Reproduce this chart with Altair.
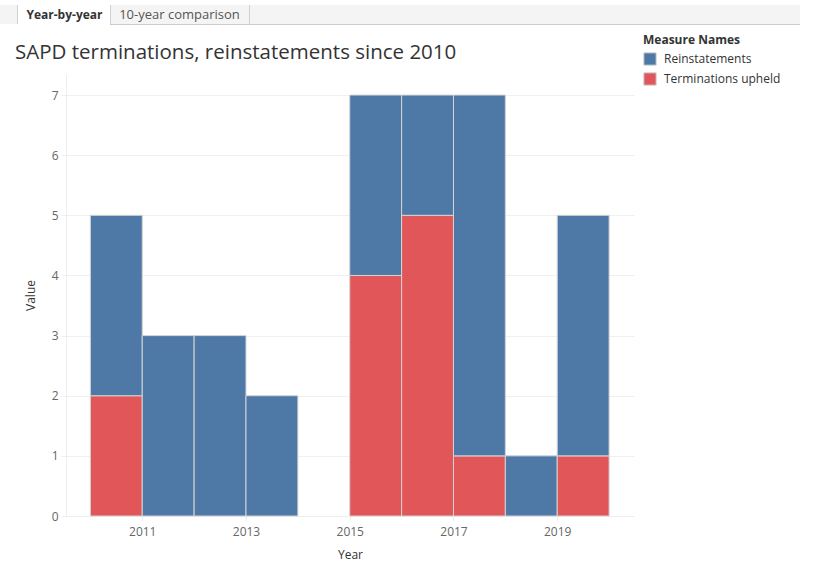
import altair as alt
import pandas as pd

years = [2010, 2011, 2012, 2013, 2014, 2015, 2016, 2017, 2018, 2019]
terminations_upheld = [2, 0, 0, 0, 0, 4, 5, 1, 0, 1]
reinstatements = [3, 3, 3, 2, 0, 3, 2, 6, 1, 4]
measures = ["Reinstatements", "Terminations upheld"]
colors = ["#4e79a7", "#e15759"]
x_ticks = [2011, 2013, 2015, 2017, 2019]
y_ticks = [0, 1, 2, 3, 4, 5, 6, 7]
title_text = "SAPD terminations, reinstatements since 2010"
tab_labels = ["Year-by-year", "10-year comparison"]

rows = []
for y, t, r in zip(years, terminations_upheld, reinstatements):
    rows.append({"Year": y, "Measure Names": "Terminations upheld", "Value": t, "order": 0})
    rows.append({"Year": y, "Measure Names": "Reinstatements", "Value": r, "order": 1})
df = pd.DataFrame(rows)

FONT = "Open Sans"
OX, OY = 66, 74  # plot origin in page pixels

bars = (
    alt.Chart(df)
    .transform_stack(
        stack="Value",
        groupby=["Year"],
        as_=["v0", "v1"],
        sort=[alt.SortField("order", order="ascending")],
    )
    .transform_calculate(YearEnd="datum.Year + 1")
    .transform_filter("datum.Value > 0")
    .mark_bar(stroke="#d4d4d4", strokeWidth=1)
    .encode(
        x=alt.X(
            "Year:Q",
            scale=alt.Scale(domain=[2009.53, 2020.48], nice=False, zero=False),
            axis=alt.Axis(
                values=x_ticks,
                format="d",
                title="Year",
                grid=False,
                domain=True,
                domainColor="#eeeeee",
                ticks=True,
                tickColor="#eeeeee",
                tickSize=5,
                labelFont=FONT,
                labelFontSize=12,
                labelColor="#666666",
                labelPadding=5,
                titleFont=FONT,
                titleFontSize=12,
                titleFontWeight="normal",
                titleColor="#333333",
                titlePadding=12,
            ),
        ),
        x2="YearEnd:Q",
        y=alt.Y(
            "v1:Q",
            scale=alt.Scale(domain=[0, 7.35], nice=False),
            axis=alt.Axis(
                values=y_ticks,
                title="Value",
                grid=True,
                gridColor="#f0f0f0",
                domain=True,
                domainColor="#eeeeee",
                ticks=True,
                tickColor="#f0f0f0",
                tickSize=5,
                labelFont=FONT,
                labelFontSize=12,
                labelColor="#666666",
                labelPadding=3,
                titleFont=FONT,
                titleFontSize=12,
                titleFontWeight="normal",
                titleColor="#333333",
                titlePadding=14,
            ),
        ),
        y2="v0:Q",
        color=alt.Color(
            "Measure Names:N",
            scale=alt.Scale(domain=measures, range=colors),
            legend=alt.Legend(
                title="Measure Names",
                orient="none",
                legendX=643 - OX,
                legendY=35 - OY,
                symbolType="square",
                symbolSize=150,
                symbolStrokeColor="#cccccc",
                symbolStrokeWidth=1,
                symbolOpacity=1,
                titleFont=FONT,
                titleFontSize=12,
                titleFontWeight="bold",
                titleColor="#333333",
                labelFont=FONT,
                labelFontSize=12,
                labelColor="#333333",
                rowPadding=2,
                titlePadding=5,
                labelOffset=7,
            ),
        ),
    )
)

one = alt.Data(values=[{"a": 1}])

tab_bg = alt.Chart(one).mark_rect(color="#f4f4f4").encode(
    x=alt.value(0 - OX), x2=alt.value(800 - OX), y=alt.value(5 - OY), y2=alt.value(24 - OY)
)
tab_sel = alt.Chart(one).mark_rect(color="#ffffff").encode(
    x=alt.value(17 - OX), x2=alt.value(110 - OX), y=alt.value(5 - OY), y2=alt.value(25 - OY)
)
tab_line = alt.Chart(one).mark_rule(color="#cccccc", strokeWidth=1).encode(
    x=alt.value(110 - OX), x2=alt.value(800 - OX), y=alt.value(24.5 - OY)
)
sep1 = alt.Chart(one).mark_rule(color="#d0d0d0").encode(
    x=alt.value(17.5 - OX), y=alt.value(5 - OY), y2=alt.value(24 - OY)
)
sep2 = alt.Chart(one).mark_rule(color="#d0d0d0").encode(
    x=alt.value(110.5 - OX), y=alt.value(5 - OY), y2=alt.value(24 - OY)
)
sep3 = alt.Chart(one).mark_rule(color="#d0d0d0").encode(
    x=alt.value(249.5 - OX), y=alt.value(5 - OY), y2=alt.value(24 - OY)
)
tab1 = alt.Chart(one).mark_text(
    text=tab_labels[0], font=FONT, fontSize=12, fontWeight="bold", color="#333333",
    align="center", baseline="middle"
).encode(x=alt.value(64.5 - OX), y=alt.value(14.5 - OY))
tab2 = alt.Chart(one).mark_text(
    text=tab_labels[1], font=FONT, fontSize=13, color="#555555",
    align="center", baseline="middle"
).encode(x=alt.value(179.5 - OX), y=alt.value(14.5 - OY))
title = alt.Chart(one).mark_text(
    text=title_text, font=FONT, fontSize=20.5, color="#333333",
    align="left", baseline="alphabetic"
).encode(x=alt.value(15 - OX), y=alt.value(59 - OY))

chart = (
    alt.layer(bars, tab_bg, tab_sel, tab_line, sep1, sep2, sep3, tab1, tab2, title)
    .properties(
        width=634 - OX,
        height=516 - OY,
        background="white",
        autosize=alt.AutoSizeParams(type="none"),
        padding={"left": OX, "top": OY, "right": 823 - 634, "bottom": 565 - 516},
    )
    .configure_view(strokeWidth=0, stroke=None)
)

chart.save("out.html", embed_options={"renderer": "svg", "actions": False})
